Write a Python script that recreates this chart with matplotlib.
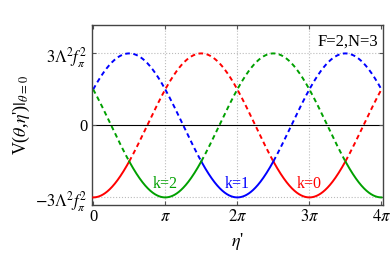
import numpy as np
import matplotlib.pyplot as plt

plt.rcParams['font.family'] = ['Liberation Serif', 'DejaVu Serif']
plt.rcParams['mathtext.fontset'] = 'stix'

# model parameters shown on the chart
F = 2
N = 3
amp = 3.0                     # in units of Lambda^2 f_pi^2
ks = [0, 1, 2]
colors = {0: '#ff0000', 1: '#0000ff', 2: '#00a000'}
label_pos = {2: (np.pi, -2.6), 1: (2 * np.pi, -2.6), 0: (3 * np.pi, -2.6)}

xticks = [0, np.pi, 2 * np.pi, 3 * np.pi, 4 * np.pi]
xticklabels = ['0', r'$\pi$', r'$2\pi$', r'$3\pi$', r'$4\pi$']
yticks = [-3, 0, 3]
yticklabels = [r'$-3\Lambda^2 f_\pi^2$', '0', r'$3\Lambda^2 f_\pi^2$']

eta = np.linspace(0, 4 * np.pi, 1200)
V = {k: -amp * np.cos((F * eta + 2 * np.pi * k) / N) for k in ks}
Vmin = np.min(np.vstack([V[k] for k in ks]), axis=0)

fig = plt.figure(figsize=(3.9, 2.59), dpi=100)
ax = fig.add_axes([0.236, 0.21, 0.745, 0.695])

for y in [-3, 3]:
    ax.axhline(y, color='#bbbbbb', lw=0.8, ls=':', zorder=0)
for x in xticks[1:-1]:
    ax.axvline(x, color='#bbbbbb', lw=0.8, ls=':', zorder=0)
ax.axhline(0, color='black', lw=0.8, zorder=1)

for k in ks:
    on = np.isclose(V[k], Vmin)
    dashed = np.where(on, np.nan, V[k])
    solid = np.where(on, V[k], np.nan)
    ax.plot(eta, dashed, color=colors[k], lw=1.4, ls=(0, (2.4, 1.8)), zorder=2)
    ax.plot(eta, solid, color=colors[k], lw=1.4, zorder=3)
    ax.text(label_pos[k][0], label_pos[k][1], 'k=%d' % k, color=colors[k],
            fontsize=11.5, ha='center', va='baseline')

ax.text(0.985, 0.95, 'F=%d,N=%d' % (F, N), transform=ax.transAxes,
        fontsize=12, ha='right', va='top')

ax.set_xlim(-0.05, 4 * np.pi + 0.05)
ax.set_ylim(-3.3, 4.2)
ax.set_xticks(xticks)
ax.set_xticklabels(xticklabels, fontsize=12)
ax.set_yticks(yticks)
ax.set_yticklabels(yticklabels, fontsize=12)
ax.tick_params(direction='in', top=True, right=True, length=3, color='#555555')
for s in ax.spines.values():
    s.set_color('#444444')
    s.set_linewidth(1.0)

ax.set_xlabel(r"$\eta$'", fontsize=13)
ax.set_ylabel(r"V($\theta$,$\eta$')$|_{\theta=0}$", fontsize=13, labelpad=2)

fig.savefig('out.png', dpi=100)
